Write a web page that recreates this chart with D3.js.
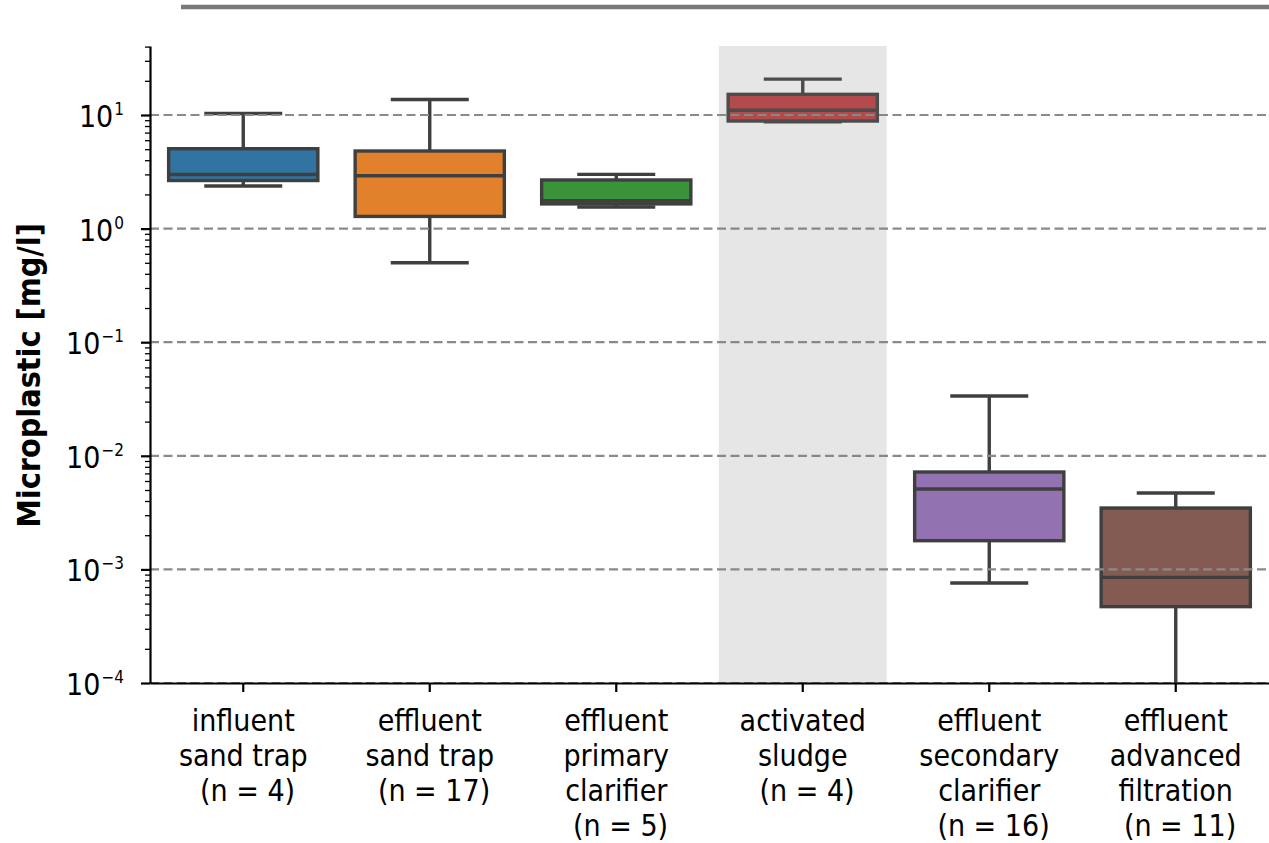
<!DOCTYPE html>
<html>
<head>
<meta charset="utf-8">
<script src="https://cdn.jsdelivr.net/npm/d3@7"></script>
<style>
  body { margin: 0; background: #fff; }
  svg { display: block; }
  text { font-family: "DejaVu Sans Condensed", "DejaVu Sans", sans-serif; fill: #000; }
</style>
</head>
<body>
<svg id="chart" width="1269" height="843"></svg>
<script>
// boxplot stats (mg/l)
const categories = ["influent sand trap", "effluent sand trap", "effluent primary clarifier",
  "activated sludge", "effluent secondary clarifier", "effluent advanced filtration"];
const tickLabels = [
  ["influent", "sand trap", " (n = 4)"],
  ["effluent", "sand trap", " (n = 17)"],
  ["effluent", "primary", "clarifier", " (n = 5)"],
  ["activated", "sludge", " (n = 4)"],
  ["effluent", "secondary", "clarifier", " (n = 16)"],
  ["effluent", "advanced", "filtration", " (n = 11)"]
];
const whiskerLow  = [2.37, 0.50, 1.55, 8.7, 0.00076, 0.00008];
const q1          = [2.65, 1.28, 1.65, 8.85, 0.00179, 0.00047];
const median      = [2.99, 2.92, 1.76, 11.0, 0.0051, 0.00085];
const q3          = [5.05, 4.82, 2.68, 15.2, 0.0072, 0.00347];
const whiskerHigh = [10.3, 13.7, 3.0, 20.7, 0.0336, 0.0047];
const colors = ["#3274a1", "#e1812c", "#3a923a", "#c03d3e", "#9372b2", "#845b53"];
const decades = [-4, -3, -2, -1, 0, 1];
const highlighted = "activated sludge";

const size = { width: 1269, height: 843, left: 150, right: 1269, top: 46, bottom: 683 };
const edge = "#3f3f3f";

const svg = d3.select("#chart");

svg.append("defs").append("clipPath").attr("id", "plot")
  .append("rect")
  .attr("x", size.left).attr("y", size.top)
  .attr("width", size.right - size.left)
  .attr("height", size.bottom - size.top);

const x = d3.scaleBand()
  .domain(categories)
  .range([size.left, size.right])
  .padding(0);

const y = d3.scaleLog()
  .domain([1e-4, 40.5])
  .range([size.bottom, size.top]);

const bw = x.bandwidth();
const rows = categories.map((c, i) => ({
  c, color: colors[i],
  lo: whiskerLow[i], q1: q1[i], med: median[i], q3: q3[i], hi: whiskerHigh[i]
}));

// faint bar above the plot (cut off in the original)
svg.append("line")
  .attr("x1", 181).attr("x2", size.width)
  .attr("y1", 7).attr("y2", 7)
  .attr("stroke", "#7d7878")
  .attr("stroke-width", 4.5);

// boxes
const gBox = svg.append("g").attr("clip-path", "url(#plot)");
rows.forEach(d => {
  const cx = x(d.c) + bw / 2;
  const g = gBox.append("g");
  // whiskers
  g.append("line").attr("x1", cx).attr("x2", cx)
    .attr("y1", y(d.q3)).attr("y2", y(d.hi))
    .attr("stroke", edge).attr("stroke-width", 3.4);
  g.append("line").attr("x1", cx).attr("x2", cx)
    .attr("y1", y(d.q1)).attr("y2", y(d.lo))
    .attr("stroke", edge).attr("stroke-width", 3.4);
  [d.hi, d.lo].forEach(v => {
    g.append("line")
      .attr("x1", cx - bw * 0.2).attr("x2", cx + bw * 0.2)
      .attr("y1", y(v)).attr("y2", y(v))
      .attr("stroke", edge).attr("stroke-width", 3.4)
      .attr("stroke-linecap", "square");
  });
  g.append("rect")
    .attr("x", x(d.c) + bw * 0.1)
    .attr("width", bw * 0.8)
    .attr("y", y(d.q3))
    .attr("height", y(d.q1) - y(d.q3))
    .attr("fill", d.color)
    .attr("stroke", edge).attr("stroke-width", 3.4);
  g.append("line")
    .attr("x1", x(d.c) + bw * 0.1).attr("x2", x(d.c) + bw * 0.9)
    .attr("y1", y(d.med)).attr("y2", y(d.med))
    .attr("stroke", edge).attr("stroke-width", 3.4);
});

// dashed grid at decades, drawn over the boxes
svg.append("g")
  .selectAll("line")
  .data(decades)
  .join("line")
  .attr("x1", size.left).attr("x2", size.right)
  .attr("y1", d => y(Math.pow(10, d)))
  .attr("y2", d => y(Math.pow(10, d)))
  .attr("stroke", "#8a8a8a")
  .attr("stroke-width", 2.2)
  .attr("stroke-dasharray", "9,4.5");

// grey span behind "activated sludge"
svg.append("rect")
  .attr("x", x(highlighted) + bw * 0.05)
  .attr("width", bw * 0.9)
  .attr("y", size.top)
  .attr("height", size.bottom - size.top)
  .attr("fill", "grey")
  .attr("fill-opacity", 0.2);

// y axis: minor ticks
const minors = [];
for (let e = -4; e <= 1; e++) {
  for (let m = 2; m <= 9; m++) {
    const v = m * Math.pow(10, e);
    if (v <= 40.5) minors.push(v);
  }
}
svg.append("g")
  .attr("transform", `translate(${size.left},0)`)
  .call(d3.axisLeft(y).tickValues(minors).tickSize(5).tickFormat(""))
  .call(g => g.select(".domain").remove())
  .call(g => g.selectAll(".tick line").attr("stroke", "#000").attr("stroke-width", 1.3));

// y axis: major ticks
const yAxis = svg.append("g")
  .attr("transform", `translate(${size.left},0)`)
  .call(d3.axisLeft(y).tickValues(decades.map(e => Math.pow(10, e))).tickSize(9).tickSizeOuter(0).tickFormat(""));
yAxis.select(".domain").attr("stroke", "#000").attr("stroke-width", 2.2);
yAxis.selectAll(".tick line").attr("stroke", "#000").attr("stroke-width", 2.2);
yAxis.selectAll(".tick").each(function (v) {
  const e = Math.round(Math.log10(v));
  const t = d3.select(this).append("text")
    .attr("x", -26).attr("y", 11.5)
    .attr("text-anchor", "end")
    .style("font-size", "30px");
  t.append("tspan").text("10");
  t.append("tspan").attr("dy", -12).attr("dx", 1).style("font-size", "17px")
    .text(e < 0 ? "\u2212" + Math.abs(e) : String(e));
});

// x axis
const xAxis = svg.append("g")
  .attr("transform", `translate(0,${size.bottom})`)
  .call(d3.axisBottom(x).tickSize(9).tickSizeOuter(0).tickFormat(""));
xAxis.select(".domain").attr("stroke", "#000").attr("stroke-width", 2.2);
xAxis.selectAll(".tick line").attr("stroke", "#000").attr("stroke-width", 2.2);
xAxis.selectAll(".tick").each(function (c) {
  const lines = tickLabels[categories.indexOf(c)];
  const t = d3.select(this).append("text")
    .attr("text-anchor", "middle")
    .style("font-size", "30px")
    .style("white-space", "pre");
  lines.forEach((s, i) => {
    t.append("tspan").attr("x", 0).attr("y", 48 + i * 35).text(s);
  });
});

// y title
svg.append("text")
  .attr("transform", `translate(40,${(size.top + size.bottom) / 2 + 11}) rotate(-90)`)
  .attr("text-anchor", "middle")
  .style("font-size", "32px")
  .style("font-weight", "bold")
  .text("Microplastic [mg/l]");
</script>
</body>
</html>
